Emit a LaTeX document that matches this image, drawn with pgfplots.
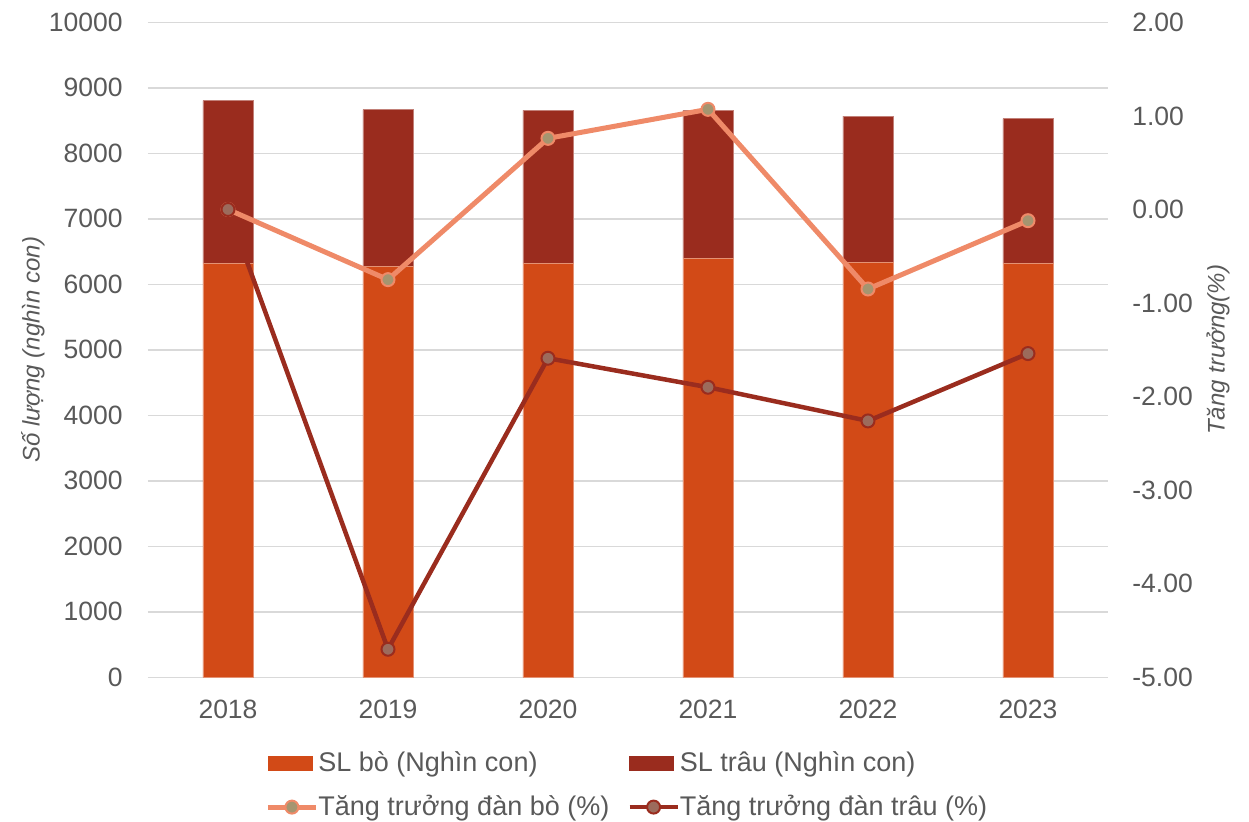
\documentclass[border=0pt]{standalone}
\usepackage{fontspec}
\setmainfont{Liberation Sans}
\usepackage{pgfplots}
\pgfplotsset{compat=1.18}
\usepackage{pgfplotstable}
\definecolor{boBar}{HTML}{D24A17}
\definecolor{trauBar}{HTML}{9A2C1E}
\definecolor{boLine}{HTML}{EF8A68}
\definecolor{boMark}{HTML}{A59570}
\definecolor{trauMark}{HTML}{9C6B5C}
\definecolor{gridc}{HTML}{D9D9D9}
\definecolor{txt}{HTML}{595959}

\pgfplotsset{
  linelegend/.style={legend image code/.code={\draw[mark repeat=2,mark phase=2,##1] plot coordinates {(0pt,0pt) (12pt,0pt) (24pt,0pt)};}},
  boxlegend/.style={legend image code/.code={\fill[#1] (0pt,-3.5pt) rectangle (22pt,3.5pt);}},
}

\pgfplotstableread{
x bo trau
0 6325 2478
1 6279 2387
2 6325 2332
3 6398 2259
4 6336 2233
5 6325 2203
}\bars
\pgfplotstableread{
x gbo gtrau
0 0.00 0.00
1 -0.75 -4.70
2 0.76 -1.59
3 1.07 -1.90
4 -0.85 -2.26
5 -0.12 -1.54
}\growth

\begin{document}
\begin{tikzpicture}
\path[use as bounding box] (-74pt,-71.85pt) rectangle (550.5pt,338.65pt);
\begin{axis}[
  at={(0,0)}, anchor=south west, scale only axis,
  width=480pt, height=327.5pt,
  xmin=-0.5, xmax=5.5, ymin=0, ymax=10000,
  ytick={0,1000,...,10000}, scaled y ticks=false,
  xtick={0,...,5}, xticklabels={2018,2019,2020,2021,2022,2023},
  axis line style={draw=none}, major tick style={draw=none},
  ymajorgrids, grid style={gridc, line width=0.75pt},
  ybar stacked, bar width=25pt,
  /pgf/number format/assume math mode=true,
  /pgf/number format/1000 sep={},
  ticklabel style={font=\fontsize{13.25}{15}\selectfont, text=txt},
  yticklabel style={anchor=east, inner sep=0pt, xshift=-12.5pt},
  xticklabel style={anchor=north, inner sep=0pt, yshift=-11.35pt},
  ylabel={Số lượng (nghìn con)},
  every axis y label/.style={at={(axis description cs:-0.1198,0.5)}, rotate=90, anchor=center, font=\fontsize{12}{14}\selectfont\itshape, text=txt},
]
\addplot[fill=boBar, draw=boBar!60!white, line width=0.3pt] table[x=x,y=bo]{\bars};
\addplot[fill=trauBar, draw=trauBar!60!white, line width=0.3pt] table[x=x,y=trau]{\bars};
\end{axis}
\begin{axis}[
  at={(0,0)}, anchor=south west, scale only axis,
  width=480pt, height=327.5pt,
  xmin=-0.5, xmax=5.5, ymin=-5, ymax=2,
  ytick={-5,-4,-3,-2,-1,0,1,2},
  axis x line=none, axis y line*=right,
  axis line style={draw=none}, major tick style={draw=none},
  /pgf/number format/assume math mode=true,
  yticklabel style={/pgf/number format/.cd, fixed, fixed zerofill, precision=2, /tikz/.cd, anchor=west, inner sep=0pt, xshift=12pt, font=\fontsize{13.25}{15}\selectfont, text=txt},
  ylabel={Tăng trưởng(\%)},
  every axis y label/.style={at={(axis description cs:1.1146,0.5)}, rotate=90, anchor=center, font=\fontsize{12}{14}\selectfont\itshape, text=txt},
  legend columns=2,
  legend cell align=left,
  legend style={draw=none, fill=none, inner sep=0pt,
    at={(axis description cs:0.1219,-0.109)}, anchor=north west,
    font=\fontsize{13.5}{15}\selectfont, text=txt, row sep=8pt,
    nodes={inner xsep=0pt, inner ysep=0pt, text height=11pt, text depth=3pt},
    /tikz/every even column/.append style={column sep=9pt}},
]
\addlegendimage{boxlegend, boBar}
\addlegendentry{SL bò (Nghìn con)}
\addlegendimage{boxlegend, trauBar}
\addlegendentry{SL trâu (Nghìn con)}
\addplot[boLine, line width=2.5pt, mark=*, mark size=3.25pt,
  mark options={fill=boMark, draw=boLine, line width=1pt}, linelegend]
  table[x=x,y=gbo]{\growth};
\addlegendentry{Tăng trưởng đàn bò (\%)}
\addplot[trauBar, line width=2.25pt, mark=*, mark size=3.25pt,
  mark options={fill=trauMark, draw=trauBar, line width=1pt}, linelegend]
  table[x=x,y=gtrau]{\growth};
\addlegendentry{Tăng trưởng đàn trâu (\%)}
\end{axis}
\end{tikzpicture}
\end{document}
